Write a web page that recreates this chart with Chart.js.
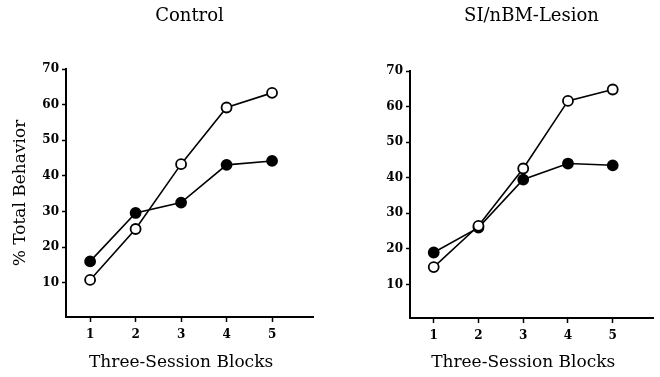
<!DOCTYPE html>
<html>
<head>
<meta charset="utf-8">
<script src="https://cdn.jsdelivr.net/npm/chart.js@4"></script>
<style>
	body { margin: 0; background: #fff; }
	.panel { position: absolute; top: 0; }
</style>
</head>
<body>
<canvas id="chart_control" class="panel" width="330" height="377" style="left:0"></canvas>
<canvas id="chart_lesion" class="panel" width="330" height="377" style="left:330px"></canvas>
<script>
const blocks = [1, 2, 3, 4, 5];
const yTicks = [10, 20, 30, 40, 50, 60, 70];

const controlOpen = [10.8, 25.1, 43.3, 59.2, 63.3];
const controlFilled = [16, 29.6, 32.5, 43.1, 44.2];

const lesionOpen = [14.9, 26.5, 42.6, 61.6, 64.8];
const lesionFilled = [19, 26, 39.5, 44, 43.5];

const serif = '"DejaVu Serif", "Liberation Serif", serif';

// x label sits centered on block 3, not on the whole axis
const blockLabel = {
	id: 'blockLabel',
	afterDraw: (chart, args, opts) => {
		const ctx = chart.ctx;
		const xs = chart.scales.x;
		ctx.save();
		ctx.font = '17px ' + serif;
		ctx.fillStyle = '#000';
		ctx.textAlign = 'center';
		ctx.textBaseline = 'middle';
		ctx.fillText(opts.text, xs.getPixelForValue(3), opts.y);
		ctx.restore();
	},
};

function series(values, fill) {
	return {
		data: blocks.map((b, i) => ({ x: b, y: values[i] })),
		borderColor: '#000',
		borderWidth: 1.6,
		pointRadius: 5,
		pointHoverRadius: 5,
		pointBorderWidth: 1.8,
		pointBorderColor: '#000',
		pointBackgroundColor: fill,
		tension: 0,
	};
}

function makeChart(el, title, openVals, filledVals, box, yTitle) {
	return new Chart(el, {
		type: 'line',
		data: {
			datasets: [series(openVals, '#fff'), series(filledVals, '#000')],
		},
		plugins: [blockLabel],
		options: {
			responsive: false,
			animation: false,
			layout: {
				padding: { left: 0, right: box.right, top: 0, bottom: 0 },
			},
			plugins: {
				legend: { display: false },
				tooltip: { enabled: false },
				title: {
					display: true,
					text: title,
					fullSize: false,
					color: '#000',
					font: { family: serif, size: 18, weight: 'normal' },
					padding: { top: 6, bottom: box.top - 6 - 21.6 },
				},
				blockLabel: { text: 'Three-Session Blocks', y: 363 },
			},
			scales: {
				x: {
					type: 'linear',
					min: 0.47,
					max: 5.9,
					afterBuildTicks: scale => {
						scale.ticks = blocks.map(v => ({ value: v }));
					},
					afterFit: scale => {
						scale.height = 377 - box.bottom;
					},
					grid: {
						drawOnChartArea: false,
						drawTicks: true,
						tickLength: 5,
						tickWidth: 1.5,
						tickColor: '#000',
					},
					border: { display: true, color: '#000', width: 2 },
					ticks: {
						color: '#000',
						padding: 6,
						maxRotation: 0,
						font: { family: serif, size: 12, weight: 'bold' },
					},
				},
				y: {
					min: box.ymin,
					max: 70,
					afterBuildTicks: scale => {
						scale.ticks = yTicks.map(v => ({ value: v }));
					},
					afterFit: scale => {
						scale.width = box.left;
					},
					grid: {
						drawOnChartArea: false,
						drawTicks: true,
						tickLength: 4,
						tickWidth: 1.5,
						tickColor: '#000',
					},
					border: { display: true, color: '#000', width: 2 },
					title: {
						display: !!yTitle,
						text: yTitle,
						color: '#000',
						font: { family: serif, size: 17, weight: 'normal' },
						padding: { top: 10, bottom: 0 },
					},
					ticks: {
						color: '#000',
						padding: 3,
						font: { family: serif, size: 12, weight: 'bold' },
					},
				},
			},
		},
	});
}

const chartControl = makeChart(
	document.getElementById('chart_control'),
	'Control', controlOpen, controlFilled,
	{ left: 66, right: 17, top: 69, bottom: 317, ymin: 0.4 },
	'% Total Behavior'
);

const chartLesion = makeChart(
	document.getElementById('chart_lesion'),
	'SI/nBM-Lesion', lesionOpen, lesionFilled,
	{ left: 80, right: 7, top: 71, bottom: 318, ymin: 0.6 },
	''
);
</script>
</body>
</html>
